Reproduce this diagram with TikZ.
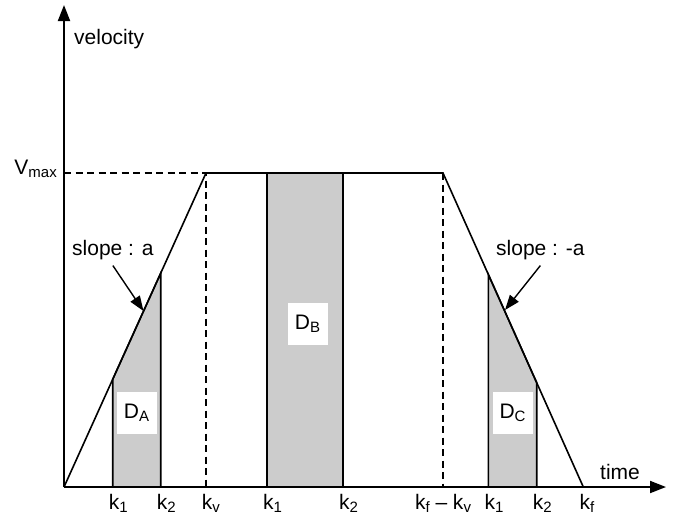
\documentclass[tikz,border=0pt]{standalone}
\usepackage{fontspec}
\setmainfont{Liberation Sans}
\usepackage{tikz}
\usepackage{xcolor}
\usetikzlibrary{
  positioning, arrows.meta, calc,
}
\definecolor{cShade}{HTML}{CCCCCC}
\newcommand{\lowsub}[1]{\raisebox{-3pt}{\fontsize{15}{18}\selectfont #1}}

\tikzset{
  axisline/.style={line width=1.9pt, -{Triangle[length=16pt, width=12pt]}},
  profile/.style={line width=1.6pt, line join=miter},
  guide/.style={line width=1.1pt, dash pattern=on 7pt off 4.5pt},
  area/.style={fill=cShade, draw=black, line width=1.6pt},
  pointer/.style={line width=1.4pt, -{Triangle[length=15pt, width=11pt]}},
  tag/.style={font=\fontsize{21}{25}\selectfont, inner sep=1pt},
  areabox/.style={tag, fill=white, inner sep=0pt, minimum width=40pt,
                  minimum height=42pt},
}

\begin{document}
\begin{tikzpicture}[x=1pt, y=-1pt]
  \useasboundingbox (0,0) rectangle (676,515);
  \coordinate (O) at (64,487);
  \coordinate (A) at (206,173);
  \coordinate (B) at (443,173);
  \coordinate (F) at (583.3,487);
  \coordinate (ytop) at (64,5);
  \coordinate (xend) at (666,487);

  % shaded areas
  \draw[area] (112.7,487) -- (112.7,379.3) -- (160.7,273.2) -- (160.7,487);
  \draw[area] (267,487) -- (267,173) -- (343,173) -- (343,487);
  \draw[area] (488.3,487) -- (488.3,274.4) -- (536.7,382.7) -- (536.7,487);

  % dashed guides
  \draw[guide] (O |- A) -- (A) -- (A |- O);
  \draw[guide] (B) -- (B |- O);

  % velocity profile and axes
  \draw[profile] (O) -- (A) -- (B) -- (F);
  \draw[axisline] (O) -- (ytop);
  \draw[axisline] (O) -- (xend);

  \node[tag, anchor=base west] (vel) at (73,44) {velocity};
  \node[tag, anchor=base east] (vmax) at (58,174) {V\lowsub{max}};
  \node[tag, anchor=base west] (time) at (599,479) {time};

  \node[areabox] (DA) at (136.5,413) {D\lowsub{A}};
  \node[areabox] (DB) at (307.5,323.5) {D\lowsub{B}};
  \node[areabox] (DC) at (512.5,413) {D\lowsub{C}};

  \node[tag, anchor=base west] (slopeA) at (71,255) {slope : a};
  \node[tag, anchor=base west] (slopeC) at (495,255) {slope : -a};
  \coordinate (tipA) at (143.5,311);
  \coordinate (tipC) at (505,310);
  \draw[pointer] ([yshift=-5pt]slopeA.south) -- (tipA);
  \draw[pointer] ([yshift=-5pt]slopeC.south) -- (tipC);

  \foreach \x/\s [count=\i] in {112.7/1, 160.7/2, 205.7/v, 267/1, 343/2,
                                 488.3/1, 536.7/2, 583.3/f}
    \node[tag, anchor=base west] (tick\i) at (\x-5,509) {k\lowsub{\s}};
  \node[tag, anchor=base] (tickfv) at (443,509)
    {k\lowsub{f} -- k\lowsub{v}};
\end{tikzpicture}
\end{document}
